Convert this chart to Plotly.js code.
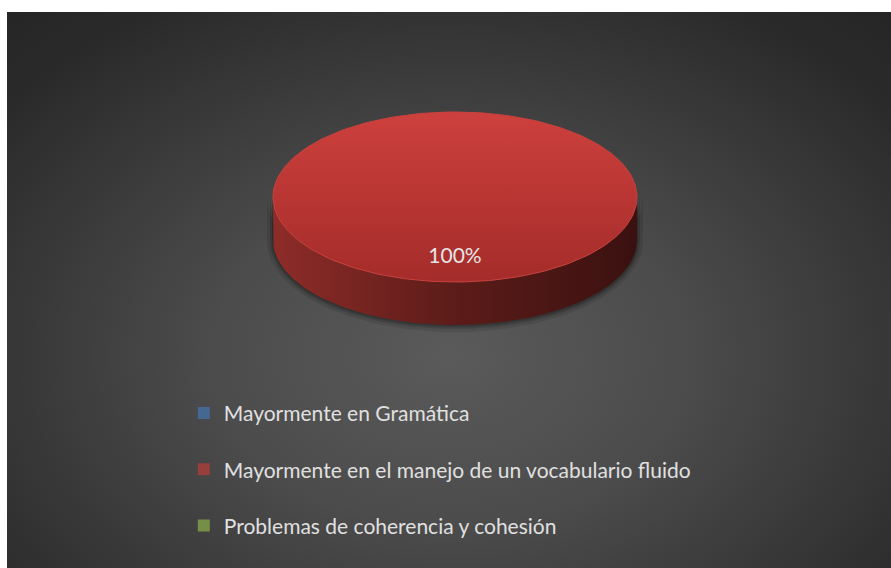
<!DOCTYPE html>
<html><head><meta charset="utf-8">
<script src="https://cdn.plot.ly/plotly-3.0.1.min.js"></script>
<style>
html,body{margin:0;padding:0;background:#fff;width:891px;height:568px;overflow:hidden}
#chart{position:absolute;left:7px;top:12px;width:884px;height:556px;
background:radial-gradient(ellipse 75% 85% at 50% 62%, #5a5a5a 0%, #4c4c4c 35%, #2a2a2a 85%, #252525 100%);}
</style></head><body>
<div id="chart"></div>
<script>
const categories = ["Mayormente en Gramática", "Mayormente en el manejo de un vocabulario fluido", "Problemas de coherencia y cohesión"];
const values = [0, 100, 0];
const swatchColors = ["#4475B5", "#B83C39", "#8DB04A"];
const topColors = [["#5A8FD0", "#3C6BA6"], ["#CD403D", "#A42C2A"], ["#A9CB63", "#86A845"]];
const sideColors = [["#3A5F8E", "#17263A"], ["#8E2C28", "#3A1110"], ["#6F8A35", "#2E3A14"]];

// geometry of the tilted pie (page pixels)
const cx = 455, cy = 197, ra = 182, rb = 85, depth = 43;
const total = values.reduce((s, v) => s + v, 0);

function pt(deg, dy) {
  const t = deg * Math.PI / 180;
  return [cx + ra * Math.sin(t), cy - rb * Math.cos(t) + (dy || 0)];
}
function arc(a0, a1, dy) {
  const n = Math.max(2, Math.ceil(Math.abs(a1 - a0) / 1.5));
  const xs = [], ys = [];
  for (let i = 0; i <= n; i++) {
    const p = pt(a0 + (a1 - a0) * i / n, dy);
    xs.push(p[0]); ys.push(p[1]);
  }
  return [xs, ys];
}

// soft shadow under the pie
const shadowTraces = [];
[[6, 0.10], [3, 0.14], [1, 0.18]].forEach(([g, op]) => {
  const xs = [], ys = [];
  for (let d = 90; d <= 270; d += 2) {
    const t = d * Math.PI / 180;
    xs.push(cx + (ra + g) * Math.sin(t)); ys.push(cy - (rb + g) * Math.cos(t) + depth + 1);
  }
  for (let d = 270; d >= 90; d -= 2) {
    const t = d * Math.PI / 180;
    xs.push(cx + (ra + g) * Math.sin(t)); ys.push(cy - (rb + g) * Math.cos(t));
  }
  shadowTraces.push({type: "scatter", x: xs, y: ys, mode: "lines", fill: "toself",
    line: {width: 0}, fillcolor: "rgba(0,0,0," + op + ")", showlegend: false, hoverinfo: "skip"});
});

const sideTraces = [], topTraces = [], legendTraces = [], labelX = [], labelY = [], labelT = [];
let acc = 0;
values.forEach((v, i) => {
  const a0 = acc / total * 360, a1 = (acc + v) / total * 360;
  acc += v;
  // side band (visible front half: 90..270)
  const s0 = Math.max(a0, 90), s1 = Math.min(a1, 270);
  if (v > 0 && s1 > s0) {
    const [tx, ty] = arc(s0, s1, 0);
    const [bx, by] = arc(s1, s0, depth);
    sideTraces.push({
      type: "scatter", x: tx.concat(bx), y: ty.concat(by), mode: "lines", fill: "toself",
      line: {width: 0, color: sideColors[i][0]},
      fillgradient: {type: "horizontal", colorscale: [[0, sideColors[i][0]], [0.5, "#5C1C19"], [1, sideColors[i][1]]], start: cx - ra, stop: cx + ra},
      showlegend: false, hoverinfo: "skip"
    });
  }
  // top face
  if (v > 0) {
    let [ax, ay] = arc(a0, a1, 0);
    if (v < total) { ax = [cx].concat(ax, [cx]); ay = [cy].concat(ay, [cy]); }
    topTraces.push({
      type: "scatter", x: ax, y: ay, mode: "lines", fill: "toself",
      line: {width: 1, color: "#C9413D"},
      fillgradient: {type: "vertical", colorscale: [[0, topColors[i][0]], [1, topColors[i][1]]], start: cy - rb, stop: cy + rb},
      showlegend: false, hoverinfo: "skip"
    });
  }
  // label / legend anchor at slice middle
  const mid = (a0 + a1) / 2, t = mid * Math.PI / 180;
  const lx = cx + 0.72 * ra * Math.sin(t), ly = cy - 0.72 * rb * Math.cos(t);
  legendTraces.push({
    type: "scatter", x: [lx], y: [ly], mode: "markers", name: categories[i],
    marker: {symbol: "square", size: [0.01], color: swatchColors[i], line: {width: 0}},
    legendgroup: "g" + i, hoverinfo: "skip"
  });
  if (v > 0) {
    labelX.push(lx); labelY.push(ly);
    labelT.push(Math.round(v / total * 100) + "%");
  }
});

const labelTrace = {
  type: "scatter", x: labelX, y: labelY, text: labelT, mode: "text",
  textfont: {family: "Lato, sans-serif", size: 21, color: "#E6E6E6"},
  showlegend: false, hoverinfo: "skip"
};

const layout = {
  width: 884, height: 556,
  margin: {l: 0, r: 0, t: 0, b: 0},
  paper_bgcolor: "rgba(0,0,0,0)", plot_bgcolor: "rgba(0,0,0,0)",
  xaxis: {range: [7, 891], visible: false, fixedrange: true},
  yaxis: {range: [568, 12], visible: false, fixedrange: true},
  showlegend: true,
  legend: {
    x: 0.2, y: 0.315, xanchor: "left", yanchor: "top",
    bgcolor: "rgba(0,0,0,0)", tracegroupgap: 26, traceorder: "grouped",
    font: {family: "Lato, sans-serif", size: 21, color: "#E0E0E0"},
    itemwidth: 30, itemsizing: "constant"
  },
  font: {family: "Lato, sans-serif"}
};

Plotly.newPlot("chart", shadowTraces.concat(sideTraces, topTraces, legendTraces, [labelTrace]), layout, {displayModeBar: false, staticPlot: true});
</script>
</body></html>
